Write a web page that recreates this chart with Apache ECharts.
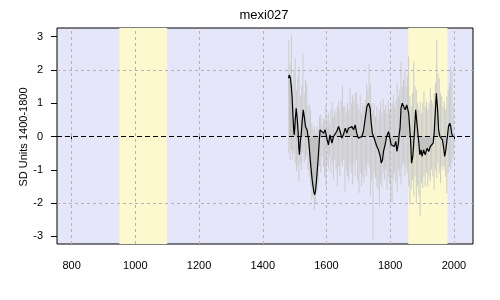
<!DOCTYPE html>
<html><head><meta charset="utf-8">
<script src="https://cdn.jsdelivr.net/npm/echarts@6/dist/echarts.min.js"></script>
<style>html,body{margin:0;padding:0;background:#fdfefd}#c{width:500px;height:300px}</style>
</head><body><div id="c"></div>
<script>
const chartTitle = 'mexi027';
const yAxisTitle = 'SD Units 1400-1800';
const xTicks = [800, 1000, 1200, 1400, 1600, 1800, 2000];
const yTicks = [-3, -2, -1, 0, 1, 2, 3];
const yGridLines = [-2, 2];
const warmBands = [[950, 1100], [1857, 1980]];

// annual values summarised per 4-year bin (bin centre = binStart + i*binStep)
const binStart = 1482, binStep = 4;
const annualHigh = [2.9,2.2,3.05,1.6,2.0,2.35,1.4,1.8,2.1,1.2,1.5,2.5,1.3,1.7,1.6,0.9,1.0,0.8,0.4,0.2,
0.3,0.1,0.3,0.2,0.6,0.65,0.4,0.55,0.5,0.95,0.5,0.7,0.4,0.8,1.05,0.6,0.8,0.7,0.9,1.05,
0.8,1.1,1.55,0.9,0.9,0.7,1.0,0.8,1.45,1.0,1.25,1.1,1.3,1.35,1.0,0.8,1.25,0.7,1.0,0.9,
1.1,1.6,1.4,2.2,1.55,1.0,0.8,1.0,0.6,0.9,0.5,0.8,1.05,0.7,1.15,0.8,0.95,0.7,1.1,0.8,
0.9,1.0,1.25,0.9,1.1,1.6,1.2,1.4,2.25,1.5,1.7,1.95,1.5,1.8,2.4,1.2,0.9,1.3,2.25,1.5,
1.4,1.0,0.8,1.05,0.7,1.0,1.35,0.9,1.05,0.8,1.0,1.45,1.1,1.0,1.3,1.6,2.9,1.9,1.75,1.3,
1.2,0.9,1.05,0.8,1.2,1.4,1.6,2.1,1.95,1.0];
const annualLow = [-0.5,-0.7,-0.4,-0.7,-0.5,-0.8,-1.05,-0.9,-1.35,-0.8,-1.0,-0.5,-0.8,-0.7,-0.6,-1.0,-1.2,-1.5,-1.9,-1.8,
-2.2,-2.0,-1.7,-1.4,-0.9,-1.1,-0.6,-0.9,-1.2,-1.5,-0.8,-1.0,-0.6,-1.1,-0.8,-1.3,-0.7,-1.0,-1.5,-0.9,
-1.2,-0.8,-0.9,-0.7,-1.65,-1.0,-1.2,-1.35,-0.9,-1.1,-1.45,-0.8,-1.2,-0.7,-1.3,-1.7,-1.1,-1.5,-1.2,-1.4,
-1.0,-1.2,-0.8,-0.9,-1.8,-1.3,-3.1,-1.1,-1.25,-1.5,-1.6,-2.1,-1.4,-1.5,-1.1,-1.3,-1.0,-1.6,-1.2,-1.4,
-1.9,-2.0,-1.3,-1.1,-1.4,-1.65,-1.0,-1.2,-1.45,-0.9,-0.8,-1.2,-0.9,-1.1,-1.5,-2.05,-1.6,-1.3,-1.8,-1.2,
-2.0,-1.5,-1.8,-2.4,-1.4,-1.55,-1.2,-1.5,-1.1,-1.5,-1.2,-1.35,-1.0,-1.2,-1.6,-1.0,-1.25,-0.8,-1.1,-1.4,
-0.9,-1.0,-0.9,-1.2,-1.7,-1.1,-0.9,-1.0,-0.8,-0.6];

// smoothed curve
const smoothYears = [1481,1483,1487,1490,1492,1495,1497,1499,1502,1505,1508,1511,1513,1515,1518,1521,1524,1527,1531,1534,
1539,1544,1547,1550,1555,1560,1563,1566,1568,1572,1575,1578,1580,1585,1591,1596,1601,1606,1611,1617,
1622,1627,1632,1638,1643,1648,1653,1659,1664,1669,1674,1680,1685,1690,1695,1700,1706,1711,1716,1721,
1727,1732,1737,1740,1744,1748,1753,1758,1763,1769,1772,1776,1779,1784,1789,1795,1800,1803,1807,1813,
1818,1821,1826,1828,1831,1834,1838,1842,1847,1852,1855,1858,1861,1864,1867,1871,1874,1877,1880,1883,
1887,1890,1893,1897,1900,1905,1910,1916,1921,1926,1931,1935,1938,1942,1945,1949,1952,1956,1960,1964,
1968,1971,1974,1979,1983,1987,1990,1994,1998];
const smoothValues = [1.75,1.85,1.75,1.45,1.2,0.6,0.2,0.05,0.5,0.85,0.55,0.15,-0.3,-0.55,-0.15,0.1,0.5,0.8,0.55,0.3,
0.2,-0.1,-0.45,-0.8,-1.3,-1.65,-1.75,-1.6,-1.4,-0.9,-0.5,-0.05,0.2,0.25,0.1,0.2,-0.05,-0.25,0.05,-0.2,
0.0,0.0,0.15,0.3,0.15,-0.05,0.05,0.25,0.1,0.25,0.2,0.3,0.2,0.35,0.1,-0.05,-0.1,0.0,0.15,0.5,
0.9,1.0,0.85,0.45,0.1,0.0,-0.05,-0.3,-0.4,-0.6,-0.8,-0.7,-0.45,-0.25,0.0,0.15,-0.1,-0.25,-0.2,-0.3,
-0.15,-0.45,-0.2,0.05,0.25,0.85,1.0,0.95,0.8,0.95,0.9,0.7,0.3,-0.1,-0.8,-0.6,-0.2,0.3,0.8,0.5,
0.1,-0.2,-0.55,-0.4,-0.6,-0.4,-0.55,-0.35,-0.45,-0.3,-0.25,-0.2,0.1,0.8,1.3,0.8,0.2,0.0,0.05,-0.1,
-0.35,-0.6,-0.45,-0.05,0.3,0.4,0.3,0.05,0.0];

const FONT = 'Liberation Sans';
const chart = echarts.init(document.getElementById('c'), null, {renderer: 'canvas'});
const hiData = annualHigh.map((v, i) => [binStart + i * binStep, v]);
const loData = annualLow.map((v, i) => [binStart + i * binStep, v]);
const smooth = smoothYears.map((y, i) => [y, smoothValues[i]]);

chart.setOption({
  backgroundColor: '#fdfefd',
  animation: false,
  grid: {left: 57, top: 28, right: 27, bottom: 56, show: true, backgroundColor: '#e6e6fa', borderColor: '#000', borderWidth: 1},
  xAxis: {
    type: 'value', min: 754, max: 2060,
    axisLine: {show: false},
    axisTick: {show: true, length: 5, customValues: xTicks, lineStyle: {color: '#000'}},
    axisLabel: {customValues: xTicks, margin: 16, color: '#000', fontFamily: FONT, fontSize: 11, formatter: v => String(v)},
    splitLine: {show: false}
  },
  yAxis: {
    type: 'value', min: -3.23, max: 3.26,
    axisLine: {show: false},
    axisTick: {show: true, length: 6, customValues: yTicks, lineStyle: {color: '#000'}},
    axisLabel: {customValues: yTicks, margin: 14, color: '#000', fontFamily: FONT, fontSize: 11, formatter: v => String(v)},
    splitLine: {show: false}
  },
  graphic: [
    {type: 'text', x: 264, y: 15, z: 10, style: {text: chartTitle, textAlign: 'center', textVerticalAlign: 'middle', align: 'center', verticalAlign: 'middle', font: '13px ' + FONT, fill: '#000'}},
    {type: 'text', x: 24, y: 137, rotation: Math.PI / 2, z: 10, style: {text: yAxisTitle, textAlign: 'center', textVerticalAlign: 'middle', align: 'center', verticalAlign: 'middle', font: '11px ' + FONT, fill: '#000'}}
  ],
  series: [
    {type: 'line', data: [], z: 1, silent: true,
      markArea: {silent: true, itemStyle: {color: '#fbf9cd'}, data: warmBands.map(b => [{xAxis: b[0]}, {xAxis: b[1]}])}},
    {type: 'line', data: [], z: 2, silent: true,
      markLine: {silent: true, symbol: 'none', label: {show: false}, lineStyle: {color: '#b4b4b4', type: [3, 3], width: 1},
        data: xTicks.map(x => ({xAxis: x})).concat(yGridLines.map(y => ({yAxis: y})))}},
    {type: 'bar', data: hiData, barWidth: 1, barGap: '-100%', z: 3, itemStyle: {color: '#cbcbcb'}, silent: true},
    {type: 'bar', data: loData, barWidth: 1, barGap: '-100%', z: 3, itemStyle: {color: '#cbcbcb'}, silent: true},
    {type: 'line', data: smooth, z: 4, symbol: 'none', lineStyle: {width: 0}, areaStyle: {color: '#c2c2c2', opacity: 1, origin: 0}, silent: true},
    {type: 'line', data: [], z: 5, silent: true,
      markLine: {silent: true, symbol: 'none', label: {show: false}, lineStyle: {color: '#000', type: [5, 3], width: 1}, data: [{yAxis: 0}]}},
    {type: 'line', data: smooth, z: 6, symbol: 'none', lineStyle: {color: '#000', width: 1.2}, silent: true}
  ]
});
</script></body></html>
